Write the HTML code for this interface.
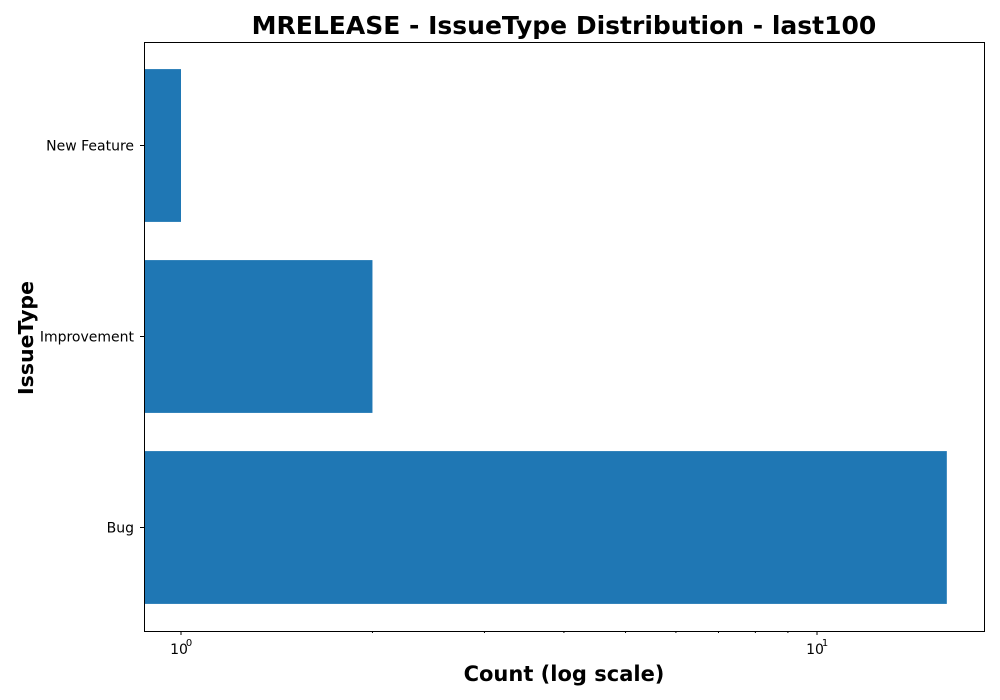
<!DOCTYPE html>
<html><head><meta charset="utf-8"><style>
body{margin:0;background:#fff;}
svg{display:block;font-family:"DejaVu Sans","Liberation Sans",sans-serif;}
</style></head><body>
<svg id="chart" width="1000" height="700">
<text x="564" y="34" text-anchor="middle" font-size="25" font-weight="bold">MRELEASE - IssueType Distribution - last100</text>
<text x="564" y="681" text-anchor="middle" font-size="21" font-weight="bold">Count (log scale)</text>
<text transform="translate(33,338) rotate(-90)" text-anchor="middle" font-size="20.5" font-weight="bold">IssueType</text>
<g id="marks"></g>
<rect x="144.5" y="42.5" width="840" height="589" fill="none" stroke="#000" stroke-width="1"/>
</svg>
<script>
const categories = ["Bug", "Improvement", "New Feature"];
const counts = [16, 2, 1];
const majorTicks = [1, 10];
const majorTickLabels = ["0", "1"];
const minorTicks = [2, 3, 4, 5, 6, 7, 8, 9, 20];

const L = 144, R = 985, T = 42, B = 631;
const x0 = 181, perDecade = 636;
function xs(v){ return x0 + Math.log10(v) * perDecade; }
const slot = 191, bottomCenter = 527.5;
function ys(i){ return bottomCenter - i * slot; }
const NS = "http://www.w3.org/2000/svg";
const g = document.getElementById("marks");
function mk(tag, attrs){ const e = document.createElementNS(NS, tag); for (const k in attrs) e.setAttribute(k, attrs[k]); g.appendChild(e); return e; }

categories.forEach((c, i) => {
  const yc = ys(i), h = slot * 0.8;
  const bar = mk("rect", {x: L, y: yc - h/2, width: xs(counts[i]) - L, height: h, fill: "#1f77b4"});
  
  
  const tk = mk("line", {x1: L - 4, x2: L, y1: yc, y2: yc, stroke: "#000"});
  
  
  const lb = mk("text", {x: L - 10, y: yc + 5, "text-anchor": "end", "font-size": "14"});
  lb.textContent = c;
  
  
});
majorTicks.forEach((v, i) => {
  const x = xs(v);
  const tk = mk("line", {x1: x, x2: x, y1: B, y2: B + 4, stroke: "#000"});
  
  
  const lb = mk("text", {x: x - 2, y: B + 23, "text-anchor": "middle", "font-size": "14"});
  lb.textContent = "10";
  
  
  const sp = mk("text", {x: x + 8, y: B + 15, "text-anchor": "middle", "font-size": "10"});
  sp.textContent = majorTickLabels[i];
  
  
});
minorTicks.forEach(v => {
  const x = xs(v);
  if (x < L || x > R) return;
  const tk = mk("line", {x1: x, x2: x, y1: B, y2: B + 2, stroke: "#000"});
  
  
});
</script>
</body></html>
